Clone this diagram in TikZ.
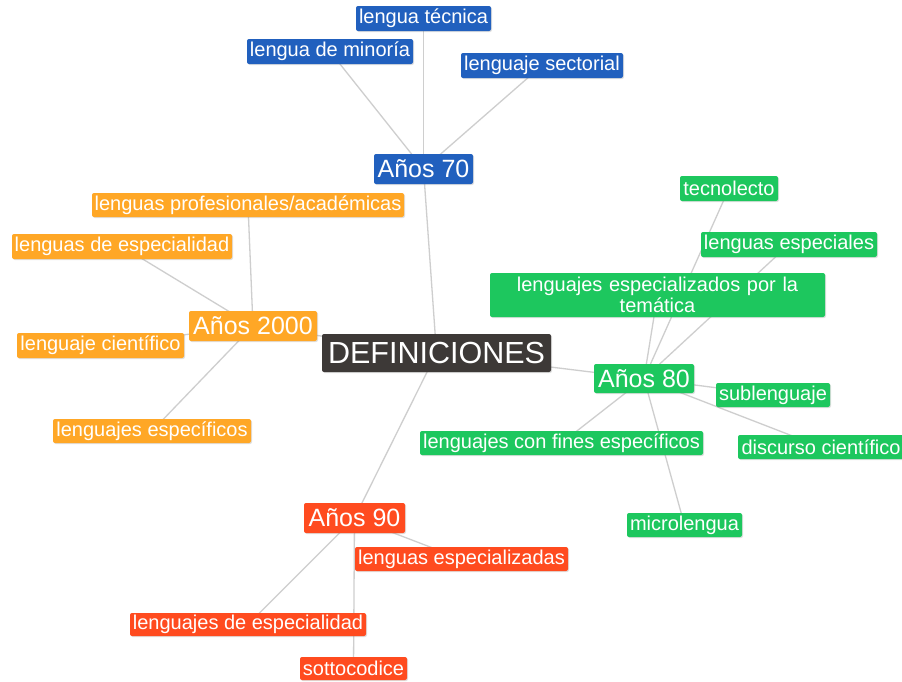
\documentclass[tikz,border=0pt]{standalone}
\usepackage{fontspec}
\setmainfont{Liberation Sans}
\usetikzlibrary{shadows}
\pgfdeclarelayer{background}
\pgfsetlayers{background,main}
\definecolor{blueC}{RGB}{33,96,190}
\definecolor{orangeC}{RGB}{255,167,38}
\definecolor{greenC}{RGB}{29,199,94}
\definecolor{redC}{RGB}{255,75,31}
\definecolor{darkC}{RGB}{61,57,55}
\definecolor{edgeC}{RGB}{206,206,206}
\tikzset{
  box/.style={rounded corners=2pt, inner sep=0pt, text=white, align=center,
    drop shadow={opacity=0.25, shadow xshift=1pt, shadow yshift=-1pt}},
  leaf/.style={box, font=\fontsize{20}{20.5}\selectfont},
  mid/.style={box, font=\fontsize{25}{26}\selectfont},
  root/.style={box, fill=darkC, font=\fontsize{30.5}{31}\selectfont},
  bl/.style={fill=blueC}, og/.style={fill=orangeC}, gr/.style={fill=greenC}, rd/.style={fill=redC},
  edge/.style={draw=edgeC, line width=1.3pt}
}
\begin{document}
\begin{tikzpicture}[x=1pt,y=-1pt]
\useasboundingbox (0,0) rectangle (902,681);
% root
\node[root, minimum width=229pt, minimum height=38pt] (def) at (436.5,353) {DEFINICIONES};
% blue
\node[mid, bl, minimum width=99pt, minimum height=30pt] (a70) at (423.5,169) {Años 70};
\node[leaf, bl, minimum width=135pt, minimum height=25pt] (tec) at (423.5,18.5) {lengua técnica};
\node[leaf, bl, minimum width=166pt, minimum height=25pt] (min) at (330,51.5) {lengua de minoría};
\node[leaf, bl, minimum width=162pt, minimum height=25pt] (sec) at (542,65.5) {lenguaje sectorial};
% orange
\node[mid, og, minimum width=128pt, minimum height=30pt] (a2000) at (253,326) {Años 2000};
\node[leaf, og, minimum width=312pt, minimum height=24pt] (prof) at (248,205) {lenguas profesionales/académicas};
\node[leaf, og, minimum width=220pt, minimum height=25pt] (espO) at (122,246.5) {lenguas de especialidad};
\node[leaf, og, minimum width=167pt, minimum height=25pt] (cien) at (100.5,345.5) {lenguaje científico};
\node[leaf, og, minimum width=198pt, minimum height=24pt] (espec) at (152,431) {lenguajes específicos};
% green
\node[mid, gr, minimum width=100pt, minimum height=29pt] (a80) at (644,378.5) {Años 80};
\node[leaf, gr, minimum width=98pt, minimum height=25pt] (tecno) at (729,188.5) {tecnolecto};
\node[leaf, gr, minimum width=176pt, minimum height=25pt] (espe) at (789,244.5) {lenguas especiales};
\node[leaf, gr, minimum width=335pt, minimum height=44pt, text width=335pt] (tema) at (657.5,295) {lenguajes especializados por la\\temática};
\node[leaf, gr, minimum width=114pt, minimum height=24pt] (sub) at (773,395) {sublenguaje};
\node[leaf, gr, minimum width=166pt, minimum height=24pt] (disc) at (821,447) {discurso científico};
\node[leaf, gr, minimum width=283pt, minimum height=24pt] (fines) at (561.5,443) {lenguajes con fines específicos};
\node[leaf, gr, minimum width=115pt, minimum height=24pt] (micro) at (684.5,525) {microlengua};
% red
\node[mid, rd, minimum width=101pt, minimum height=30pt] (a90) at (354.5,518) {Años 90};
\node[leaf, rd, minimum width=213pt, minimum height=24pt] (lesp) at (461.5,559) {lenguas especializadas};
\node[leaf, rd, minimum width=236pt, minimum height=23pt] (ldesp) at (248,624.5) {lenguajes de especialidad};
\node[leaf, rd, minimum width=107pt, minimum height=23pt] (sotto) at (353.5,668.5) {sottocodice};
\begin{pgfonlayer}{background}
\fill[white] (0,0) rectangle (902,681);
\foreach \a/\b in {def/a70, def/a2000, def/a80, def/a90,
  a70/tec, a70/min, a70/sec,
  a2000/prof, a2000/espO, a2000/cien, a2000/espec,
  a80/tecno, a80/espe, a80/tema, a80/sub, a80/disc, a80/fines, a80/micro,
  a90/lesp, a90/ldesp, a90/sotto}
  \draw[edge] (\a.center) -- (\b.center);
\end{pgfonlayer}
\end{tikzpicture}
\end{document}
